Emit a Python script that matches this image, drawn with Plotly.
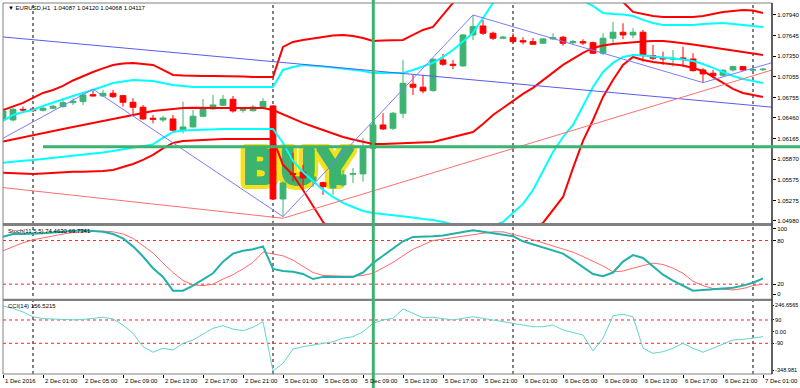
import plotly.graph_objects as go

# ---------------- data ----------------
bar_index = list(range(77))
tick_bars = list(range(0, 77, 4))
tick_labels = ["1 Dec 2016", "2 Dec 01:00", "2 Dec 05:00", "2 Dec 09:00", "2 Dec 13:00",
               "2 Dec 17:00", "2 Dec 21:00", "5 Dec 01:00", "5 Dec 05:00", "5 Dec 09:00",
               "5 Dec 13:00", "5 Dec 17:00", "5 Dec 21:00", "6 Dec 01:00", "6 Dec 05:00",
               "6 Dec 09:00", "6 Dec 13:00", "6 Dec 17:00", "6 Dec 21:00", "7 Dec 01:00"]
day_separator_bars = [3, 27, 51, 75]

opens = [1.06432, 1.06432, 1.06583, 1.06590, 1.06571, 1.06600, 1.06623, 1.06680, 1.06695, 1.06795,
         1.06777, 1.06815, 1.06781, 1.06686, 1.06614, 1.06456, 1.06432, 1.06446, 1.06284, 1.06331,
         1.06485, 1.06590, 1.06643, 1.06729, 1.06571, 1.06565, 1.06614, 1.06633, 1.05296, 1.05663,
         1.05684, 1.05555, 1.05531, 1.05454, 1.05498, 1.05651, 1.05656, 1.06025, 1.06360, 1.06312,
         1.06528, 1.06945, 1.06902, 1.06853, 1.07294, 1.07232, 1.07208, 1.07653, 1.07782, 1.07678,
         1.07606, 1.07614, 1.07571, 1.07557, 1.07534, 1.07596, 1.07620, 1.07542, 1.07557, 1.07542,
         1.07390, 1.07606, 1.07692, 1.07653, 1.07692, 1.07356, 1.07327, 1.07304, 1.07323, 1.07308,
         1.07150, 1.07103, 1.07074, 1.07150, 1.07198, 1.07146, 1.07154]
highs = [1.06604, 1.06600, 1.06623, 1.06618, 1.06623, 1.06647, 1.06743, 1.06743, 1.06838, 1.06873,
         1.06863, 1.06863, 1.06791, 1.06743, 1.06647, 1.06503, 1.06489, 1.06503, 1.06695, 1.06575,
         1.06733, 1.06791, 1.06791, 1.06777, 1.06600, 1.06647, 1.06743, 1.06647, 1.05555, 1.05957,
         1.05785, 1.05641, 1.05545, 1.05569, 1.05713, 1.05742, 1.06169, 1.06389, 1.06528, 1.06547,
         1.07294, 1.07078, 1.07078, 1.07318, 1.07380, 1.07294, 1.07667, 1.07940, 1.07869, 1.07701,
         1.07639, 1.07678, 1.07620, 1.07610, 1.07610, 1.07678, 1.07639, 1.07581, 1.07591, 1.07557,
         1.07678, 1.07844, 1.07821, 1.07749, 1.07725, 1.07509, 1.07413, 1.07437, 1.07485, 1.07390,
         1.07175, 1.07150, 1.07160, 1.07212, 1.07208, 1.07175, 1.07183]
lows = [1.06417, 1.06407, 1.06528, 1.06547, 1.06551, 1.06590, 1.06608, 1.06647, 1.06647, 1.06766,
        1.06762, 1.06748, 1.06623, 1.06503, 1.06432, 1.06384, 1.06403, 1.06274, 1.06241, 1.06321,
        1.06470, 1.06575, 1.06633, 1.06537, 1.06537, 1.06551, 1.06600, 1.05282, 1.05042, 1.05545,
        1.05426, 1.05469, 1.05354, 1.05354, 1.05469, 1.05526, 1.05545, 1.06000, 1.06288, 1.06288,
        1.06456, 1.06791, 1.06815, 1.06838, 1.07208, 1.07160, 1.07198, 1.07581, 1.07653, 1.07581,
        1.07591, 1.07542, 1.07519, 1.07509, 1.07524, 1.07581, 1.07499, 1.07509, 1.07509, 1.07376,
        1.07366, 1.07534, 1.07591, 1.07606, 1.07269, 1.07294, 1.07222, 1.07198, 1.07198, 1.07126,
        1.06968, 1.07031, 1.07054, 1.07126, 1.07136, 1.07126, 1.07136]
closes = [1.06561, 1.06585, 1.06575, 1.06565, 1.06600, 1.06629, 1.06680, 1.06700, 1.06791, 1.06777,
          1.06815, 1.06766, 1.06686, 1.06614, 1.06446, 1.06442, 1.06460, 1.06284, 1.06331, 1.06485,
          1.06590, 1.06647, 1.06729, 1.06561, 1.06580, 1.06618, 1.06695, 1.05296, 1.05526, 1.05648,
          1.05598, 1.05613, 1.05473, 1.05526, 1.05641, 1.05660, 1.06025, 1.06360, 1.06302, 1.06528,
          1.06959, 1.06902, 1.06848, 1.07304, 1.07232, 1.07218, 1.07653, 1.07772, 1.07678, 1.07606,
          1.07620, 1.07557, 1.07553, 1.07519, 1.07596, 1.07614, 1.07534, 1.07557, 1.07538, 1.07390,
          1.07606, 1.07692, 1.07653, 1.07692, 1.07356, 1.07318, 1.07308, 1.07318, 1.07298, 1.07140,
          1.07093, 1.07068, 1.07146, 1.07198, 1.07150, 1.07154, 1.07160]

# red band set (upper / middle / lower)
red_upper = [1.06575, 1.06626, 1.06676, 1.06748, 1.06820, 1.06863, 1.06920, 1.06999, 1.07064, 1.07121,
             1.07172, 1.07222, 1.07243, 1.07251, 1.07236, 1.07222, 1.07150, 1.07078, 1.07071, 1.07064,
             1.07064, 1.07064, 1.07064, 1.07057, 1.07057, 1.07049, 1.07049, 1.07049, 1.07481, 1.07553,
             1.07581, 1.07603, 1.07631, 1.07646, 1.07653, 1.07639, 1.07610, 1.07567, 1.07574, 1.07574,
             1.07581, 1.07653, 1.07725, 1.07768, 1.07940, 1.08113, 1.08228, 1.08300, 1.08343, 1.08386,
             1.08415, 1.08443, 1.08443, 1.08458, 1.08458, 1.08443, 1.08429, 1.08400, 1.08357, 1.08300,
             1.08242, 1.08199, 1.08127, 1.07984, 1.07955, 1.07926, 1.07912, 1.07912, 1.07912, 1.07912,
             1.07926, 1.07955, 1.07984, 1.07998, 1.08012, 1.08005, 1.07969]
red_middle = [1.06123, 1.06151, 1.06187, 1.06216, 1.06245, 1.06274, 1.06302, 1.06331, 1.06360, 1.06381,
              1.06410, 1.06446, 1.06475, 1.06503, 1.06536, 1.06561, 1.06575, 1.06590, 1.06604, 1.06608,
              1.06604, 1.06604, 1.06604, 1.06604, 1.06604, 1.06604, 1.06604, 1.06575, 1.06511, 1.06446,
              1.06389, 1.06338, 1.06288, 1.06238, 1.06187, 1.06151, 1.06115, 1.06087, 1.06087, 1.06094,
              1.06101, 1.06101, 1.06108, 1.06115, 1.06151, 1.06187, 1.06216, 1.06259, 1.06374, 1.06503,
              1.06604, 1.06705, 1.06805, 1.06892, 1.07006, 1.07114, 1.07222, 1.07308, 1.07394, 1.07466,
              1.07502, 1.07524, 1.07538, 1.07553, 1.07560, 1.07567, 1.07567, 1.07553, 1.07538, 1.07517,
              1.07495, 1.07473, 1.07452, 1.07430, 1.07409, 1.07387, 1.07366]
red_lower = [1.05674, 1.05667, 1.05661, 1.05656, 1.05663, 1.05674, 1.05684, 1.05689, 1.05689, 1.05689,
             1.05699, 1.05713, 1.05756, 1.05799, 1.05857, 1.05929, 1.06022, 1.06101, 1.06130, 1.06137,
             1.06144, 1.06159, 1.06159, 1.06159, 1.06159, 1.06159, 1.06159, 1.06159, 1.05785, 1.05641,
             1.05426, 1.05196, 1.04966, 1.04822, 1.04707, 1.04621, 1.04549, 1.04506, 1.04463, 1.04434,
             1.04391, 1.04362, 1.04348, 1.04348, 1.04362, 1.04377, 1.04391, 1.04420, 1.04463, 1.04520,
             1.04592, 1.04678, 1.04779, 1.04880, 1.04952, 1.05138, 1.05325, 1.05740, 1.06130, 1.06431,
             1.06762, 1.07006, 1.07222, 1.07337, 1.07294, 1.07265, 1.07251, 1.07236, 1.07215, 1.07179,
             1.07136, 1.07049, 1.06963, 1.06877, 1.06820, 1.06791, 1.06762]
# cyan band set (upper / lower)
cyan_upper = [1.06418, 1.06503, 1.06547, 1.06575, 1.06633, 1.06683, 1.06726, 1.06776, 1.06820, 1.06863,
              1.06913, 1.06963, 1.06985, 1.07006, 1.06999, 1.06992, 1.06963, 1.06935, 1.06920, 1.06906,
              1.06906, 1.06906, 1.06906, 1.06906, 1.06906, 1.06906, 1.06906, 1.06906, 1.07150, 1.07193,
              1.07222, 1.07215, 1.07200, 1.07186, 1.07172, 1.07157, 1.07136, 1.07107, 1.07107, 1.07107,
              1.07107, 1.07150, 1.07200, 1.07251, 1.07337, 1.07437, 1.07560, 1.07682, 1.07897, 1.08113,
              1.08228, 1.08300, 1.08343, 1.08357, 1.08357, 1.08343, 1.08300, 1.08228, 1.08142, 1.08070,
              1.07969, 1.07955, 1.07948, 1.07926, 1.07869, 1.07826, 1.07797, 1.07797, 1.07797, 1.07797,
              1.07811, 1.07818, 1.07826, 1.07811, 1.07797, 1.07782, 1.07768]
cyan_lower = [1.05818, 1.05835, 1.05845, 1.05857, 1.05871, 1.05886, 1.05900, 1.05914, 1.05929, 1.05943,
              1.05965, 1.05986, 1.06008, 1.06029, 1.06051, 1.06080, 1.06173, 1.06259, 1.06281, 1.06288,
              1.06295, 1.06302, 1.06302, 1.06302, 1.06302, 1.06302, 1.06302, 1.06302, 1.06101, 1.05843,
              1.05684, 1.05555, 1.05426, 1.05325, 1.05239, 1.05181, 1.05124, 1.05095, 1.05081, 1.05067,
              1.05052, 1.05031, 1.05009, 1.04995, 1.04966, 1.04930, 1.04908, 1.04894, 1.04894, 1.04908,
              1.04966, 1.05095, 1.05225, 1.05425, 1.05699, 1.05972, 1.06187, 1.06360, 1.06633, 1.06906,
              1.07121, 1.07251, 1.07337, 1.07366, 1.07359, 1.07344, 1.07337, 1.07323, 1.07301, 1.07279,
              1.07236, 1.07179, 1.07121, 1.07064, 1.07021, 1.06992, 1.06963]

zigzag_bars = [-1, 9, 28, 47, 70, 77]
zigzag_prices = [1.06090, 1.06873, 1.05042, 1.07940, 1.06968, 1.07258]
channel_bars = [0, 77]
channel_prices = [1.07624, 1.06614]
red_trend_bars = [0, 28, 77]
red_trend_prices = [1.05460, 1.05019, 1.07154]
buy_level_price = 1.06047
buy_level_start_bar = 4
signal_bar = 37.03
buy_text_bar = 29.4
buy_text_price = 1.05684

stoch_main = [85, 89, 89, 89, 90, 91, 92, 93, 94, 93,
              92, 89, 83, 72, 58, 42, 30, 11, 11, 18,
              27, 35, 51, 62, 66, 68, 72, 41, 38, 37,
              34, 27, 30, 30, 30, 30, 36, 49, 59, 69,
              79, 85, 85, 86, 87, 89, 91, 94, 92, 90,
              89, 86, 79, 75, 71, 67, 62, 53, 44, 34,
              31, 36, 51, 60, 56, 44, 33, 25, 18, 11,
              12, 13, 14, 15, 18, 22, 28]
stoch_signal = [66, 72, 77, 81, 84, 87, 89, 91, 92, 93,
                93, 92, 89, 83, 73, 63, 49, 36, 25, 19,
                18, 20, 27, 33, 41, 50, 64, 62, 59, 53,
                45, 36, 32, 31, 31, 31, 32, 35, 42, 50,
                59, 68, 74, 80, 82, 84, 86, 89, 91, 92,
                92, 89, 85, 81, 77, 73, 69, 64, 58, 52,
                45, 37, 38, 42, 45, 49, 47, 42, 35, 24,
                18, 14, 13, 12, 14, 18, 20]
cci_values = [198, 179, 152, 115, 101, 98, 95, 91, 94, 105,
              111, 98, 51, -13, -116, -159, -128, -142, -90, -64,
              -20, 26, 46, 20, 7, 34, 77, -304, -244, -134,
              -116, -103, -90, -78, -51, -39, 0, 64, 90, 103,
              175, 142, 108, 111, 103, 90, 103, 115, 103, 90,
              82, 64, 51, 38, 38, 51, 13, -5, -26, -149,
              -51, 123, 134, 115, -128, -167, -155, -128, -90, -128,
              -159, -128, -98, -64, -59, -51, -39]

price_tickvals = [1.07940, 1.07645, 1.07350, 1.07055, 1.06755, 1.06460, 1.06165, 1.05870, 1.05575, 1.05275, 1.04980]
price_ticktext = ["1.07940", "1.07645", "1.07350", "1.07055", "1.06755", "1.06460", "1.06165",
                  "1.05870", "1.05575", "1.05275", "1.04980"]
stoch_levels = [80, 20]
stoch_tickvals = [96, 80, 20, 6]
stoch_ticktext = ["100", "80", "20", "0"]
cci_levels = [90, -90]
cci_tickvals = [205.6, 90, 0, -90, -296]
cci_ticktext = ["246.6565", "90", "0.00", "-90", "-348.981"]

header_text = "\u25BC EURUSD,H1  1.04087 1.04120 1.04068 1.04117"
stoch_title = "Stoch(11,5,5) 74.4630 69.7341"
cci_title = "CCI(14) 156.5215"

# ---------------- layout constants ----------------
W, H = 800, 388
ML, MR, MT, MB = 3, 28, 3, 14
PH = H - MT - MB
X_RANGE = [0, 76.9]
PRICE_RANGE = [1.04951, 1.08112]
STOCH_RANGE = [0, 100]
CCI_RANGE = [-326.8, 236.5]


def py(pix):  # pixel row -> paper y
    return (H - MB - pix) / PH


def px(pix):  # pixel col -> paper x
    return (pix - ML) / (W - ML - MR)


MAIN_DOM = [py(223), 1.0]
STOCH_DOM = [py(298.7), py(226)]
CCI_DOM = [0.0, py(301)]

GREEN = "rgb(60,179,113)"
RED = "#FF0000"
CYAN = "#00FFFF"
FONT = "Liberation Sans, Arial, sans-serif"


def bar_to_paper(b):
    return (b - X_RANGE[0]) / (X_RANGE[1] - X_RANGE[0])


def price_to_paper(p):
    return MAIN_DOM[0] + (p - PRICE_RANGE[0]) / (PRICE_RANGE[1] - PRICE_RANGE[0]) * (MAIN_DOM[1] - MAIN_DOM[0])


fig = go.Figure()

# BUY label (drawn first, underneath everything); green inner shadows thicken the glyphs,
# yellow outer shadows form the outline
Y = "#F2E21E"
green_offsets = [(-1, 0), (1, 0), (0, -1), (0, 1), (-1, -1), (1, 1), (-1, 1), (1, -1)]
yellow_offsets = [(-4, -4), (4, -4), (-4, 4), (4, 4), (0, -5), (0, 5), (-5, 0), (5, 0),
                  (-2, -5), (2, -5), (-2, 5), (2, 5), (-5, -2), (5, -2), (-5, 2), (5, 2)]
shadow = ", ".join([f"{dx}px {dy}px 0px {GREEN}" for dx, dy in green_offsets] +
                   [f"{dx}px {dy}px 0px {Y}" for dx, dy in yellow_offsets])
fig.add_trace(go.Scatter(x=[buy_text_bar], y=[buy_text_price], mode="text", text=["BUY"],
                         textposition="middle center",
                         textfont=dict(family="DejaVu Sans, sans-serif", size=48, color=GREEN,
                                       weight="bold", shadow=shadow),
                         xaxis="x", yaxis="y", hoverinfo="skip", showlegend=False))

# candles (overlay axis so they sit above the label)
fig.add_trace(go.Candlestick(x=bar_index, open=opens, high=highs, low=lows, close=closes,
                             increasing=dict(line=dict(color=GREEN, width=1), fillcolor=GREEN),
                             decreasing=dict(line=dict(color=RED, width=1), fillcolor=RED),
                             whiskerwidth=0, xaxis="x", yaxis="y4", hoverinfo="skip", showlegend=False))


def line(xs, ys, color, width, axis="y4", xaxis="x", dash=None):
    fig.add_trace(go.Scatter(x=xs, y=ys, mode="lines",
                             line=dict(color=color, width=width, dash=dash),
                             xaxis=xaxis, yaxis=axis, hoverinfo="skip", showlegend=False))


line(bar_index, red_upper, RED, 2)
line(bar_index, red_middle, RED, 2)
line(bar_index, red_lower, RED, 2)
line(bar_index, cyan_upper, CYAN, 2)
line(bar_index, cyan_lower, CYAN, 2)
line(channel_bars, channel_prices, "#5A5AF0", 1)
line(zigzag_bars, zigzag_prices, "#7C7CFF", 1)
line(red_trend_bars, red_trend_prices, "#FF6E6E", 1)

# stochastic
line(bar_index, stoch_signal, "#FF6A6A", 1, axis="y2", xaxis="x2")
line(bar_index, stoch_main, "rgb(32,178,170)", 2, axis="y2", xaxis="x2")
# CCI
line(bar_index, cci_values, "#62D6CB", 1, axis="y3", xaxis="x3")

tickfont = dict(family=FONT, size=6, color="black")
small_tickfont = dict(family=FONT, size=5.6, color="black")
common_x = dict(range=X_RANGE, showgrid=False, zeroline=False, showticklabels=False, ticks="")
common_y = dict(showgrid=False, zeroline=False, side="right", ticks="outside",
                tickcolor="black", tickwidth=1)

fig.update_layout(
    width=W, height=H,
    margin=dict(l=ML, r=MR, t=MT, b=MB, autoexpand=False),
    paper_bgcolor="white", plot_bgcolor="white",
    showlegend=False, hovermode=False,
    boxgap=0.42, boxgroupgap=0,
    xaxis=dict(**common_x, domain=[0, 1], anchor="y", rangeslider=dict(visible=False)),
    xaxis2=dict(**common_x, domain=[0, 1], anchor="y2", matches="x"),
    xaxis3=dict(range=X_RANGE, showgrid=False, zeroline=False, domain=[0, 1], anchor="y3", matches="x",
                ticks="outside", tickvals=tick_bars, ticklen=3, tickcolor="black", showticklabels=False),
    yaxis=dict(**common_y, domain=MAIN_DOM, range=PRICE_RANGE, anchor="x", ticklen=3,
               tickfont=tickfont, ticklabelstandoff=0,
               tickvals=price_tickvals, ticktext=price_ticktext),
    yaxis4=dict(range=PRICE_RANGE, overlaying="y", anchor="x", visible=False),
    yaxis2=dict(**common_y, domain=STOCH_DOM, range=STOCH_RANGE, anchor="x2", ticklen=3,
                tickfont=tickfont, ticklabelstandoff=0,
                tickvals=stoch_tickvals, ticktext=stoch_ticktext),
    yaxis3=dict(**common_y, domain=CCI_DOM, range=CCI_RANGE, anchor="x3", ticklen=1,
                tickfont=small_tickfont, ticklabelstandoff=0,
                tickvals=cci_tickvals, ticktext=cci_ticktext),
)

shapes = []
# day separators
for b in day_separator_bars:
    shapes.append(dict(type="line", xref="x", yref="paper", x0=b, x1=b, y0=0, y1=1,
                       line=dict(color="black", width=1, dash="dot"), layer="below"))
# indicator levels
for lv in stoch_levels:
    shapes.append(dict(type="line", xref="paper", yref="y2", x0=0, x1=1, y0=lv, y1=lv,
                       line=dict(color="#FF2020", width=1, dash="dot"), layer="below"))
for lv in cci_levels:
    shapes.append(dict(type="line", xref="paper", yref="y3", x0=0, x1=1, y0=lv, y1=lv,
                       line=dict(color="#FF2020", width=1, dash="dot"), layer="below"))
# panel separators and frame
for top, bot in [(223, 226), (298.7, 301)]:
    shapes.append(dict(type="rect", xref="paper", yref="paper", x0=0, x1=1, y0=py(bot), y1=py(top),
                       fillcolor="#808080", line=dict(width=0), layer="above"))
shapes.append(dict(type="rect", xref="paper", yref="paper", x0=0, x1=1, y0=0, y1=1,
                   line=dict(color="#808080", width=1), fillcolor="rgba(0,0,0,0)", layer="above"))
shapes.append(dict(type="line", xref="paper", yref="paper", x0=1, x1=1, y0=0, y1=1,
                   line=dict(color="black", width=1), layer="above"))
# signal lines
shapes.append(dict(type="line", xref="paper", yref="paper",
                   x0=bar_to_paper(buy_level_start_bar), x1=px(800),
                   y0=price_to_paper(buy_level_price), y1=price_to_paper(buy_level_price),
                   line=dict(color=GREEN, width=3), layer="above"))
shapes.append(dict(type="line", xref="paper", yref="paper",
                   x0=bar_to_paper(signal_bar), x1=bar_to_paper(signal_bar),
                   y0=py(H), y1=py(0),
                   line=dict(color=GREEN, width=3), layer="above"))
fig.update_layout(shapes=shapes)

ann = []
for b, t in zip(tick_bars, tick_labels):
    ann.append(dict(x=b, xref="x3", y=py(381), yref="paper", text=t, showarrow=False,
                    xanchor="left", yanchor="middle", xshift=0, font=tickfont))
ann.append(dict(x=px(6), xref="paper", y=py(8), yref="paper", text=header_text, showarrow=False,
                xanchor="left", yanchor="middle", font=tickfont))
ann.append(dict(x=px(6), xref="paper", y=py(231), yref="paper", text=stoch_title, showarrow=False,
                xanchor="left", yanchor="middle", font=tickfont))
ann.append(dict(x=px(6), xref="paper", y=py(306), yref="paper", text=cci_title, showarrow=False,
                xanchor="left", yanchor="middle", font=tickfont))
fig.update_layout(annotations=ann)

fig.write_html("out.html", config={"displayModeBar": False},
               post_script="document.body.style.margin='0';document.body.style.padding='0';"
                           "document.documentElement.style.overflow='hidden';")
